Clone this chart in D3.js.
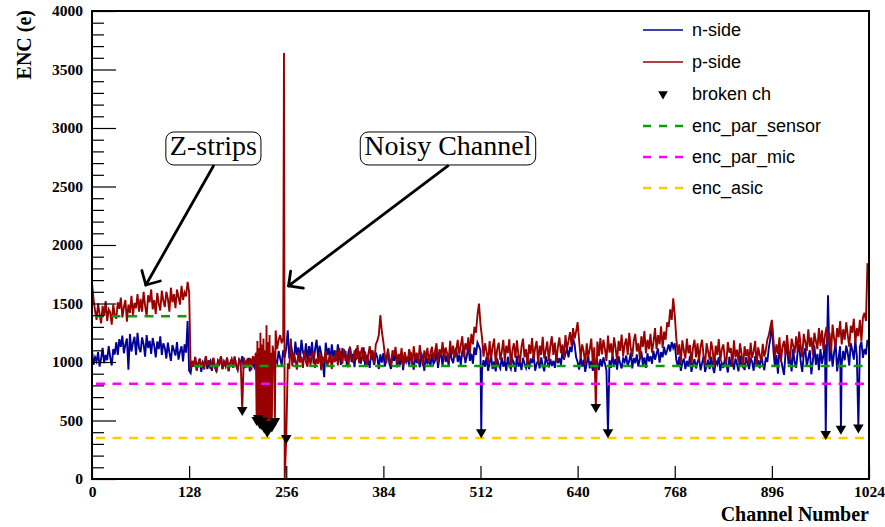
<!DOCTYPE html>
<html><head><meta charset="utf-8">
<script src="https://cdn.jsdelivr.net/npm/d3@7"></script>
<style>body{margin:0;background:#fff} svg{display:block}</style>
</head><body>
<svg id="chart" width="885" height="527"></svg>
<script>
// ---------------- DATA ----------------
const channelStep = 2; // base arrays hold every 2nd channel: 0,2,4,...,1022
const nSide = [
1100,975,1040,1005,1085,960,1030,1120,990,1060,1015,1135,1040,970,1110,1065,
1170,1060,1195,1130,1225,1075,1150,1200,935,1240,1090,1165,1215,1060,1250,1120,
1085,1210,1150,1045,1230,1120,1180,1070,1205,1140,1040,1175,1110,1220,1060,1160,
1120,1030,1165,1080,1010,1145,1100,1055,1170,1020,1090,1135,1005,1150,1080,1350,
925,905,1005,960,1040,935,990,1025,915,1000,975,1045,940,985,1010,925,
1030,960,915,1010,985,1050,940,1000,965,1035,925,990,1020,950,1045,970,
935,1015,990,1050,945,1000,970,1035,920,1025,985,955,1060,975,1010,945,
1045,960,1030,1085,970,1020,1060,945,1075,1010,990,1095,1030,975,1100,1040,
1120,1270,1030,1150,1080,995,1175,1060,1125,1010,1190,1085,1040,1160,1005,1135,
1050,1170,985,1110,1190,1030,1140,1075,1000,870,1165,1060,1120,995,1150,1040,
1100,1010,1150,1060,975,1120,1040,1095,960,1085,1130,1000,1070,955,1115,1030,
1090,985,1045,1125,965,1060,1010,950,1100,1030,975,1080,1040,940,1065,995,
1075,960,1030,1090,985,940,1060,1010,1095,955,1025,975,1070,930,1050,1000,
1045,970,1085,1005,935,1060,990,1030,955,1080,1015,925,1065,980,1040,960,
1070,985,1010,1095,950,1040,1080,965,1110,1000,1055,970,1105,1025,990,1085,
1120,1000,1060,975,1095,1130,990,1050,1145,1010,1070,985,1125,1060,1165,1135,
1100,935,1015,960,1045,925,990,1050,940,1005,920,1030,975,945,1040,960,
1010,925,1045,970,940,1025,995,915,1055,960,1000,930,1035,985,950,1020,
940,1030,990,1060,925,985,1015,945,1040,970,920,1050,1000,955,1025,965,
1010,950,1060,990,1035,975,1090,1020,1070,1110,1040,1130,1085,1200,1150,1040,
1000,935,1045,960,1020,915,990,1050,945,1010,925,1035,970,1005,930,1025,
960,1040,985,930,1040,1015,950,1060,975,1025,935,1050,990,945,1030,1000,
1055,965,1010,1080,945,1035,990,1065,960,1025,1090,975,1040,950,1075,1005,
1050,985,1095,1020,1070,1115,995,1085,1040,1130,1060,1100,1150,1090,1170,1120,
1160,1020,960,1045,925,995,1030,940,1010,960,1050,915,985,1025,945,1000,
1035,930,990,1050,915,970,1020,940,1045,960,905,1010,980,1040,925,990,
950,1025,980,910,1045,960,1005,935,1030,985,920,1055,965,1000,930,1040,
990,940,1035,1000,925,1050,970,1015,945,1060,985,930,1040,1000,1120,1200,
1340,1100,960,1060,900,1130,1020,955,890,1080,1140,980,1045,920,1110,1000,
950,1090,1150,1000,915,1065,1120,960,1035,1100,895,1010,1140,975,1070,930,
1110,985,1060,1150,940,1570,1005,1120,960,1080,1165,920,1040,1135,985,1095,
1015,1140,1075,970,1160,1100,1020,1185,1050,990,1130,1175,1035,1110,1065,1190
];
const pSide = [
1675,1540,1440,1360,1500,1410,1330,1480,1395,1520,1350,1450,1425,1320,1490,1400,
1370,1510,1455,1550,1380,1470,1530,1345,1490,1420,1565,1400,1505,1460,1580,1430,
1540,1430,1600,1480,1395,1570,1510,1620,1450,1530,1410,1590,1500,1440,1610,1525,
1470,1600,1540,1430,1635,1510,1580,1460,1620,1555,1490,1650,1530,1595,1560,1685,
1600,945,1010,960,1045,925,990,1030,950,1005,935,1050,970,1015,940,995,
1035,955,925,1010,985,1050,940,1000,965,1040,920,990,1025,955,1045,970,
935,1020,990,1000,1040,950,1005,965,1035,930,1050,985,1080,1180,1120,1250,
1150,1200,1100,1315,1170,1230,1080,1140,1050,1270,1110,1190,1230,1160,1200,0,
1050,990,940,1200,965,1070,1020,935,1085,995,1045,950,1100,1000,960,1065,
975,1060,1090,950,1030,985,1080,930,1045,1005,1095,960,1020,1070,940,1050,
1000,1095,970,1120,1035,985,1110,1010,1060,955,1130,1040,995,1100,1015,1145,
990,1070,1125,1005,1090,960,1060,1135,1020,1100,985,1150,1180,1230,1400,1260,
1170,1060,990,1115,1030,970,1100,1055,1130,985,1070,1010,1120,960,1085,1035,
1000,1110,1060,970,1135,1020,1080,990,1145,1040,965,1100,1025,1120,1000,1075,
1130,1020,1090,1160,995,1110,1050,1170,1030,1125,1075,1000,1180,1060,1140,1035,
1100,1190,1065,1140,1220,1040,1160,1105,1210,1070,1240,1150,1300,1250,1400,1500,
1320,1210,1045,1160,1090,990,1180,1030,1130,1200,980,1110,1165,1020,1085,1190,
1010,1140,1075,1195,960,1100,1160,1035,1185,1060,995,1130,1200,1040,1110,975,
1150,1070,1205,1020,1120,1180,985,1140,1060,1215,1030,1100,1175,1005,1135,1220,
1060,1165,1000,1130,1210,1075,1150,1030,1230,1110,1180,1255,1140,1290,1200,1260,
1340,1180,1030,1150,1090,975,1160,1045,1110,1200,990,1125,1100,1175,1050,1205,
1065,1190,1110,1010,1225,1080,1160,1040,1210,1120,1005,1180,1095,1235,1050,1150,
1200,1060,1250,1120,1045,1185,1240,1090,1160,1030,1220,1130,1265,1075,1190,1110,
1240,1080,1170,1290,1110,1230,1150,1305,1120,1260,1190,1340,1300,1450,1360,1545,
1400,1210,1060,1150,990,1185,1100,1030,1200,1075,1145,980,1120,1190,1040,1160,
1010,1130,1190,1050,975,1160,1085,1020,1175,1100,955,1140,1060,1195,1005,1110,
1150,1030,990,1170,1080,1120,960,1185,1040,1105,1000,1160,1070,945,1135,1050,
1110,985,1165,1035,1090,1180,970,1125,1060,1010,1155,1045,1100,1190,1230,1300,
1360,1190,1040,1150,1070,1210,1005,1130,1180,1060,1230,1095,1015,1200,1140,1075,
1220,1090,1260,1140,1040,1240,1170,1095,1280,1130,1210,1060,1250,1180,1110,1290,
1140,1270,1100,1230,1300,1155,1250,1080,1320,1200,1130,1290,1210,1350,1150,1280,
1190,1340,1230,1130,1310,1250,1370,1160,1290,1220,1360,1180,1380,1420,1350,1845
];
// broken channels (value where the trace drops to)
const nBrokenCh  = [513, 680, 967, 987, 1010];
const nBrokenVal = [400, 400, 385, 430, 440];
const pBrokenCh  = [198, 217, 219, 221, 223, 225, 227, 229, 231, 233, 235, 237, 241, 256, 664];
const pBrokenVal = [590, 505, 520, 480, 470, 500, 440, 460, 405, 430, 470, 450, 495, 350, 615];
// noisy channel
const pSpikeCh  = [253];
const pSpikeVal = [3640];
// reference levels
const sensorFrom = [0, 130];
const sensorTo   = [130, 1024];
const sensorVal  = [1390, 965];
const micVal  = 815;
const asicVal = 350;
const xTicks = [0, 128, 256, 384, 512, 640, 768, 896, 1024];
const yTicks = [0, 500, 1000, 1500, 2000, 2500, 3000, 3500, 4000];
const legendLabels = ["n-side", "p-side", "broken ch", "enc_par_sensor", "enc_par_mic", "enc_asic"];
const annotLabels = ["Z-strips", "Noisy Channel"];
const annotBoxCh  = [160, 469];
const annotBoxVal = [2825, 2825];
const annotTipCh  = [71, 259];
const annotTipVal = [1658, 1650];

// ---------------- CHART ----------------
const svg = d3.select("#chart");
const L = 92, R = 869, T = 11, B = 479;
const x = d3.scaleLinear().domain([0, 1024]).range([L, R]);
const y = d3.scaleLinear().domain([0, 4000]).range([B, T]);

const cBlue = "#000099", cRed = "#990000", cGreen = "#109a10", cMag = "#ff00ff", cYel = "#ffcc00";
const serif = "'Liberation Serif','Times New Roman',serif";
const sans = "'Liberation Sans',Arial,sans-serif";

function buildSeries(base, extraCh, extraVal) {
  const m = new Map();
  base.forEach((v, i) => m.set(i * channelStep, v));
  extraCh.forEach((c, i) => m.set(c, extraVal[i]));
  return Array.from(m, ([ch, v]) => ({ch, v})).sort((a, b) => a.ch - b.ch);
}
const nSeries = buildSeries(nSide, nBrokenCh, nBrokenVal);
const pSeries = buildSeries(pSide, pBrokenCh.concat(pSpikeCh), pBrokenVal.concat(pSpikeVal));

svg.append("defs").append("clipPath").attr("id", "clip")
  .append("rect").attr("x", L).attr("y", T).attr("width", R - L).attr("height", B - T);

const line = d3.line().x(d => x(d.ch)).y(d => y(d.v));
const g = svg.append("g").attr("clip-path", "url(#clip)");

g.append("path").datum(nSeries).attr("d", line)
  .attr("fill", "none").attr("stroke", cBlue).attr("stroke-width", 1.9);
g.append("path").datum(pSeries).attr("d", line)
  .attr("fill", "none").attr("stroke", cRed).attr("stroke-width", 1.9);

// reference dashed lines
const dash = "9,7.5";
sensorVal.forEach((v, i) => {
  g.append("line").attr("x1", x(sensorFrom[i])).attr("x2", x(sensorTo[i]))
    .attr("y1", y(v)).attr("y2", y(v))
    .attr("stroke", cGreen).attr("stroke-width", 2.5).attr("stroke-dasharray", dash).attr("stroke-dashoffset", -3);
});
[[micVal, cMag], [asicVal, cYel]].forEach(([v, c]) => {
  g.append("line").attr("x1", x(0)).attr("x2", x(1024))
    .attr("y1", y(v)).attr("y2", y(v))
    .attr("stroke", c).attr("stroke-width", 2.5).attr("stroke-dasharray", dash).attr("stroke-dashoffset", -4);
});

// broken-channel markers
const tri = d3.symbol().type(d3.symbolTriangle).size(48);
const brokenPts = nBrokenCh.map((c, i) => ({ch: c, v: nBrokenVal[i]}))
  .concat(pBrokenCh.map((c, i) => ({ch: c, v: pBrokenVal[i]})));
svg.append("g").selectAll("path").data(brokenPts).join("path")
  .attr("d", tri)
  .attr("transform", d => `translate(${x(d.ch)},${y(d.v)}) rotate(180)`)
  .attr("fill", "#000");

// axes
const yAxis = d3.axisLeft(y).tickValues(yTicks).tickSize(-24).tickPadding(9).tickFormat(d3.format("d"));
const yMinor = d3.axisLeft(y).tickValues(d3.range(0, 4001, 100).filter(v => v % 500 !== 0)).tickSize(-12).tickFormat("");
const xAxis = d3.axisBottom(x).tickValues(xTicks).tickSize(-13).tickPadding(7).tickFormat(d3.format("d"));

function styleAxis(sel) {
  sel.select(".domain").remove();
  sel.selectAll(".tick line").attr("stroke", "#000").attr("stroke-width", 1.2);
  sel.selectAll(".tick text").attr("font-family", serif).attr("font-weight", "bold")
    .attr("font-size", "15.5px").attr("fill", "#000");
}
svg.append("g").attr("transform", `translate(${L},0)`).call(yMinor).call(styleAxis);
svg.append("g").attr("transform", `translate(${L},0)`).call(yAxis).call(styleAxis);
svg.append("g").attr("transform", `translate(0,${B})`).call(xAxis).call(styleAxis);

// frame
svg.append("rect").attr("x", L).attr("y", T).attr("width", R - L).attr("height", B - T)
  .attr("fill", "none").attr("stroke", "#000").attr("stroke-width", 2);

// axis titles
svg.append("text").attr("transform", `translate(31,10) rotate(-90)`)
  .attr("text-anchor", "end").attr("font-family", serif).attr("font-weight", "bold")
  .attr("font-size", "20px").text("ENC (e)");
svg.append("text").attr("x", R).attr("y", 521).attr("text-anchor", "end")
  .attr("font-family", serif).attr("font-weight", "bold").attr("font-size", "20px").text("Channel Number");

// legend
const legY = [30, 62, 94, 126, 157, 188];
const lg = svg.append("g");
const legStyle = [
  {type: "line", color: cBlue, dash: null, w: 1.5},
  {type: "line", color: cRed, dash: null, w: 1.5},
  {type: "marker"},
  {type: "line", color: cGreen, dash: "8,8", w: 2.5},
  {type: "line", color: cMag, dash: "8,8", w: 2.5},
  {type: "line", color: cYel, dash: "8,8", w: 2.5}
];
legendLabels.forEach((lab, i) => {
  const s = legStyle[i];
  if (s.type === "line") {
    lg.append("line").attr("x1", 643).attr("x2", 683).attr("y1", legY[i]).attr("y2", legY[i])
      .attr("stroke", s.color).attr("stroke-width", s.w).attr("stroke-dasharray", s.dash);
  } else {
    lg.append("path").attr("d", d3.symbol().type(d3.symbolTriangle).size(40))
      .attr("transform", `translate(663,${legY[i]}) rotate(180)`).attr("fill", "#000");
  }
  lg.append("text").attr("x", 692).attr("y", legY[i]).attr("dy", "0.35em")
    .attr("font-family", sans).attr("font-size", "18px").attr("fill", "#000").text(lab);
});

// annotations
annotLabels.forEach((lab, i) => {
  const cx = x(annotBoxCh[i]), cy = y(annotBoxVal[i]);
  const t = svg.append("text").attr("x", cx).attr("y", cy + 7).attr("text-anchor", "middle")
    .attr("font-family", serif).attr("font-size", "28px").attr("fill", "#000").text(lab);
  const bb = t.node().getBBox();
  svg.insert("rect", () => t.node())
    .attr("x", bb.x - 4).attr("y", cy - 16.5).attr("width", bb.width + 8).attr("height", 33)
    .attr("rx", 8).attr("ry", 8).attr("fill", "#fff").attr("stroke", "#000").attr("stroke-width", 1);
  const x0 = cx, y0 = cy + 17.5;
  const x1 = x(annotTipCh[i]), y1 = y(annotTipVal[i]);
  svg.append("line").attr("x1", x0).attr("y1", y0).attr("x2", x1).attr("y2", y1)
    .attr("stroke", "#000").attr("stroke-width", 2.8).attr("stroke-linecap", "round");
  const ang = Math.atan2(y0 - y1, x0 - x1), len = 15, spread = 45 * Math.PI / 180;
  const a1 = [x1 + len * Math.cos(ang - spread), y1 + len * Math.sin(ang - spread)];
  const a2 = [x1 + len * Math.cos(ang + spread), y1 + len * Math.sin(ang + spread)];
  svg.append("path").attr("d", `M${a1[0]},${a1[1]} L${x1},${y1} L${a2[0]},${a2[1]}`)
    .attr("fill", "none").attr("stroke", "#000").attr("stroke-width", 2.8)
    .attr("stroke-linecap", "round").attr("stroke-linejoin", "round");
});
</script>
</body></html>
